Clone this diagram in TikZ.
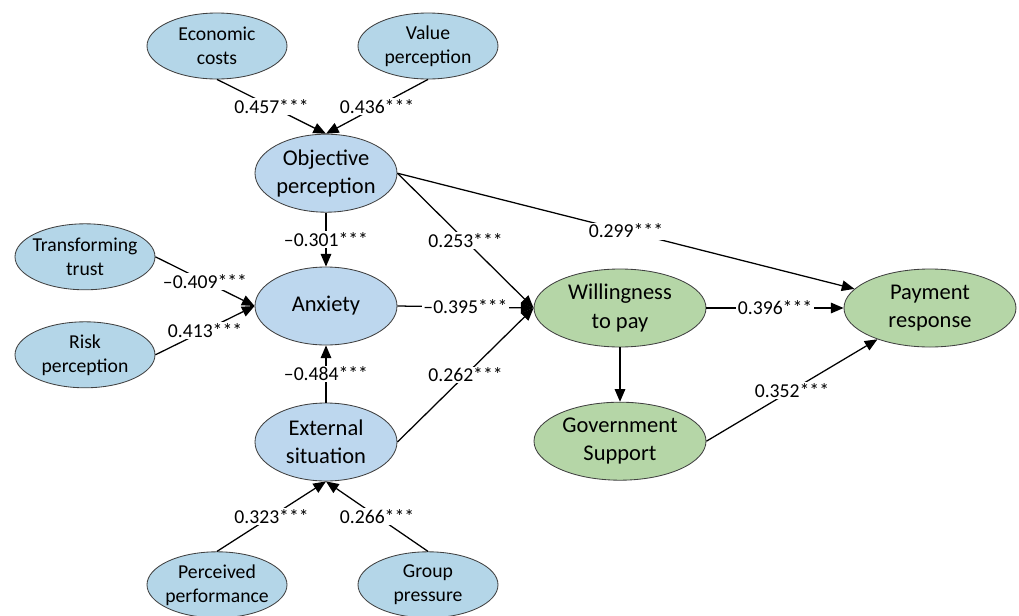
\documentclass[tikz,border=0pt]{standalone}
\usepackage{fontspec}
\setmainfont{Carlito}
\usetikzlibrary{shapes.geometric,arrows.meta}
\definecolor{semblue}{HTML}{B4D6E8}
\definecolor{sembluemid}{HTML}{BDD7EE}
\definecolor{semgreen}{HTML}{B5D6A7}
\definecolor{semgray}{HTML}{404040}

\begin{document}
\begin{tikzpicture}[
  outer/.style={ellipse,draw=semgray,line width=0.6pt,fill=semblue,
    minimum width=3.5cm,minimum height=1.65cm,inner sep=0pt,inner xsep=-6pt,
    align=center,font=\fontsize{14}{17}\selectfont},
  latent/.style={ellipse,draw=semgray,line width=0.6pt,fill=sembluemid,
    minimum width=3.55cm,minimum height=1.95cm,inner sep=0pt,
    align=center,font=\fontsize{16}{20}\selectfont},
  result/.style={latent,fill=semgreen,minimum width=4.3cm},
  arr/.style={-{Triangle[length=9pt,width=7.5pt]},line width=0.9pt,color=black},
  coef/.style={fill=white,inner sep=1pt,font=\fontsize{14}{16}\selectfont}
]
  \useasboundingbox (0,0) rectangle (25.475,-15.375);

  \node[outer]  (ec)  at (5.425,-1.15)  {Economic\\costs};
  \node[outer]  (vp)  at (10.70,-1.15)  {Value\\perception};
  \node[latent] (op)  at (8.15,-4.33)   {Objective\\perception};
  \node[outer]  (tt)  at (2.125,-6.42)  {Transforming\\trust};
  \node[outer]  (rp)  at (2.125,-8.87)  {Risk\\perception};
  \node[latent] (anx) at (8.15,-7.65)   {Anxiety};
  \node[latent] (es)  at (8.15,-11.05)  {External\\situation};
  \node[outer]  (pp)  at (5.425,-14.62) {Perceived\\performance};
  \node[outer]  (gp)  at (10.70,-14.62) {Group\\pressure};
  \node[result] (wtp) at (15.50,-7.70)  {Willingness\\to pay};
  \node[result] (pr)  at (23.25,-7.70)  {Payment\\response};
  \node[result] (gs)  at (15.50,-11.03) {Government\\Support};

  \draw[arr] (ec.south) -- node[coef]{0.457***} (op.north);
  \draw[arr] (vp.south) -- node[coef]{0.436***} (op.north);
  \draw[arr] (op.south) -- node[coef]{--0.301***} (anx.north);
  \draw[arr] (tt.east)  -- node[coef]{--0.409***} (anx.west);
  \draw[arr] (rp.east)  -- node[coef]{0.413***} (anx.west);
  \draw[arr] (es.north) -- node[coef]{--0.484***} (anx.south);
  \draw[arr] (pp.north) -- node[coef]{0.323***} (es.south);
  \draw[arr] (gp.north) -- node[coef]{0.266***} (es.south);
  \draw[arr] (op.east)  -- node[coef]{0.253***} (wtp.west);
  \draw[arr] (anx.east) -- node[coef]{--0.395***} (wtp.west);
  \draw[arr] (es.east)  -- node[coef]{0.262***} (wtp.west);
  \draw[arr] (op.east)  -- node[coef]{0.299***} (pr);
  \draw[arr] (wtp.east) -- node[coef]{0.396***} (pr.west);
  \draw[arr] (wtp.south) -- (gs.north);
  \draw[arr] (gs.east)  -- node[coef]{0.352***} (pr);
\end{tikzpicture}
\end{document}
